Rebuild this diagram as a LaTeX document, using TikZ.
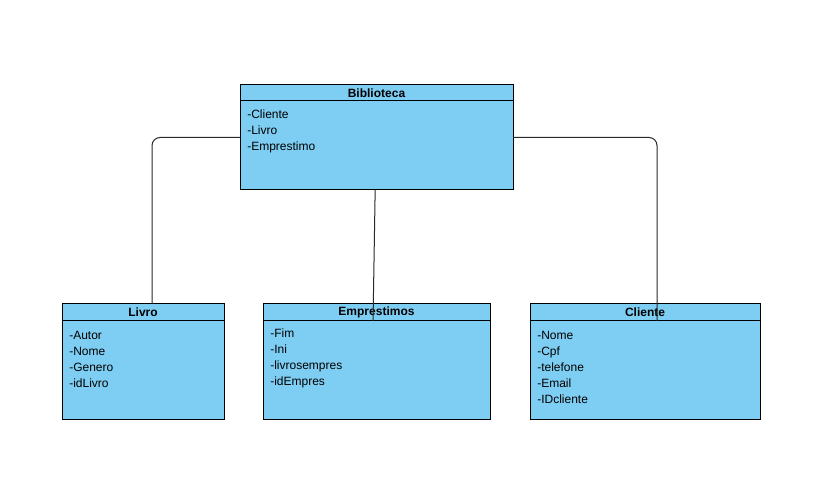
\documentclass[tikz,border=0pt]{standalone}
\usepackage{fontspec}
\setmainfont{Liberation Sans}
\definecolor{clsfill}{RGB}{126,206,243}
\definecolor{connc}{RGB}{40,40,40}
\begin{document}
\begin{tikzpicture}[x=0.75pt,y=-0.75pt,
  cls/.style={draw=black, fill=clsfill, line width=0.75pt, inner sep=0pt, outer sep=0pt, anchor=north west},
  ttl/.style={font=\fontsize{9pt}{12pt}\selectfont\bfseries, inner sep=0pt},
  attr/.style={font=\fontsize{9pt}{12pt}\selectfont, align=left, inner sep=0pt, anchor=north west},
  hdr/.style={draw=black, line width=0.75pt},
  conn/.style={draw=connc, line width=0.75pt, rounded corners=6pt}]
\useasboundingbox (0,0) rectangle (839,477);
% classes
\node[cls, minimum width=204.75pt, minimum height=78.75pt] (bib) at (240,85) {};
\node[cls, minimum width=121.5pt, minimum height=86.25pt] (liv) at (62,304) {};
\node[cls, minimum width=170.25pt, minimum height=86.25pt] (emp) at (263,304) {};
\node[cls, minimum width=172.5pt, minimum height=86.25pt] (cli) at (530,304) {};
% header separators
\draw[hdr] ([yshift=-12pt]bib.north west) -- ([yshift=-12pt]bib.north east);
\draw[hdr] ([yshift=-12.75pt]liv.north west) -- ([yshift=-12.75pt]liv.north east);
\draw[hdr] ([yshift=-12.75pt]emp.north west) -- ([yshift=-12.75pt]emp.north east);
\draw[hdr] ([yshift=-12.75pt]cli.north west) -- ([yshift=-12.75pt]cli.north east);
% titles
\node[ttl] (bibt) at ([yshift=-6pt]bib.north) {Biblioteca};
\node[ttl] (livt) at ([yshift=-6pt]liv.north) {Livro};
\node[ttl] (empt) at ([yshift=-6pt]emp.north) {Emprestimos};
\node[ttl] (clit) at ([yshift=-6pt]cli.north) {Cliente};
% attributes
\node[attr] (biba) at ([xshift=5.25pt,yshift=-18.5pt]bib.north west) {-Cliente\\-Livro\\-Emprestimo};
\node[attr] (liva) at ([xshift=5.25pt,yshift=-20.5pt]liv.north west) {-Autor\\-Nome\\-Genero\\-idLivro};
\node[attr] (empa) at ([xshift=5.25pt,yshift=-18.5pt]emp.north west) {-Fim\\-Ini\\-livrosempres\\-idEmpres};
\node[attr] (clia) at ([xshift=5.25pt,yshift=-20.5pt]cli.north west) {-Nome\\-Cpf\\-telefone\\-Email\\-IDcliente};
% connectors
\draw[conn] (bib.west) -| ([xshift=6.75pt]liv.north);
\draw[conn] (bib.east) -| ([xshift=9pt,yshift=-12.75pt]cli.north);
\draw[conn] ([xshift=-1pt]bib.south) -- ([xshift=-2.6pt,yshift=-12.75pt]emp.north);
\end{tikzpicture}
\end{document}
